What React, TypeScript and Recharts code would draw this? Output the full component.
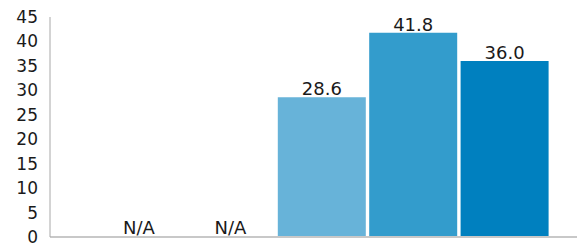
import { Bar, BarChart, Cell, LabelList, XAxis, YAxis } from "recharts";

if (typeof document !== "undefined") document.body.style.margin = "0";

const categories = ["A", "B", "C", "D", "E"];
const values: (number | null)[] = [null, null, 28.6, 41.8, 36.0];
const colors = ["#d3e9f4", "#c6e2f0", "#67b3d9", "#339ccc", "#0080bf"];
const yTicks = [0, 5, 10, 15, 20, 25, 30, 35, 40, 45];

const data = categories.map((name, i) => ({
  name,
  value: values[i] ?? 0,
  label: values[i] == null ? "N/A" : (values[i] as number).toFixed(1),
}));

const font = "'DejaVu Sans', Verdana, sans-serif";

export default function App() {
  return (
    <BarChart
      width={577}
      height={249}
      data={data}
      margin={{ top: 17, right: 0, left: 0, bottom: 11 }}
      barSize={88}
    >
      <XAxis
        dataKey="name"
        tick={false}
        tickLine={false}
        height={1}
        padding={{ left: 43, right: 27 }}
        axisLine={{ stroke: "#c8c8c8", strokeWidth: 2 }}
      />
      <YAxis
        domain={[0, 45]}
        ticks={yTicks}
        interval={0}
        width={50}
        tickLine={false}
        tickSize={0}
        tickMargin={12}
        axisLine={{ stroke: "#a8a8a8" }}
        tick={{ fontSize: 17, fill: "#1a1a1a", fontFamily: font }}
      />
      <Bar dataKey="value" isAnimationActive={false} minPointSize={1}>
        {data.map((d, i) => (
          <Cell key={d.name} fill={colors[i]} />
        ))}
        <LabelList
          dataKey="label"
          position="top"
          offset={2}
          style={{ fontSize: 18, fill: "#1a1a1a", fontFamily: font }}
        />
      </Bar>
    </BarChart>
  );
}
